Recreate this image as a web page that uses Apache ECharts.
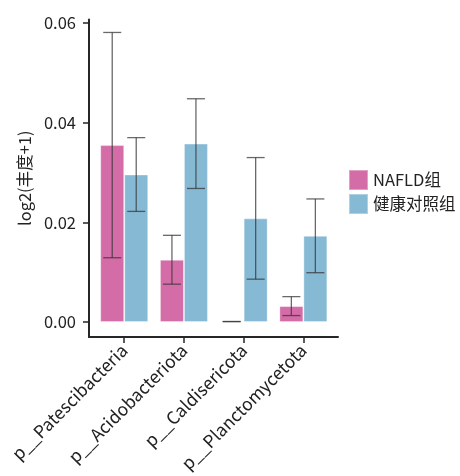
<!DOCTYPE html>
<html>
<head>
<meta charset="utf-8">
<script src="https://cdn.jsdelivr.net/npm/echarts@6/dist/echarts.min.js"></script>
<style>
  html, body { margin: 0; padding: 0; background: #fff; }
  #chart { width: 460px; height: 476px; }
</style>
</head>
<body>
<div id="chart"></div>
<script>
// Phylum names along the x axis
const categories = ['p__Patescibacteria', 'p__Acidobacteriota', 'p__Caldisericota', 'p__Planctomycetota'];
const groupNames = ['NAFLD组', '健康对照组'];

// Mean log2(abundance + 1) per phylum
const nafldMean = [0.0355, 0.0125, 0.0001, 0.0032];
const controlMean = [0.0296, 0.0358, 0.0208, 0.0173];

// Error bar half-lengths
const nafldErr = [0.0226, 0.0049, 0.0, 0.0019];
const controlErr = [0.0074, 0.0090, 0.0122, 0.0074];

// Y tick labels
const yTicks = [0, 0.02, 0.04, 0.06];

const FONT = '"Noto Sans CJK SC", "Noto Sans", sans-serif';
const colors = ['#d46ca8', '#86b9d4'];
const BAR_W = 24;

function barData(means) {
  return means.map((v, i) => [i, v]);
}

function errData(means, errs) {
  return means.map((v, i) => [i, v - errs[i], v + errs[i]]);
}

function errorSeries(name, means, errs, shift) {
  return {
    type: 'custom',
    name: name + '-err',
    z: 5,
    silent: true,
    encode: { x: 0, y: [1, 2] },
    data: errData(means, errs),
    renderItem: function (params, api) {
      const x = api.value(0);
      const lo = api.coord([x, api.value(1)]);
      const hi = api.coord([x, api.value(2)]);
      const cx = lo[0] + shift;
      const cap = 9;
      const style = { stroke: 'rgba(55,55,55,0.75)', lineWidth: 1.3, fill: null };
      return {
        type: 'group',
        children: [
          { type: 'line', shape: { x1: cx, y1: lo[1], x2: cx, y2: hi[1] }, style: style },
          { type: 'line', shape: { x1: cx - cap, y1: lo[1], x2: cx + cap, y2: lo[1] }, style: style },
          { type: 'line', shape: { x1: cx - cap, y1: hi[1], x2: cx + cap, y2: hi[1] }, style: style }
        ]
      };
    }
  };
}

const chart = echarts.init(document.getElementById('chart'), null, { renderer: 'canvas' });

chart.setOption({
  animation: false,
  textStyle: { fontFamily: FONT },
  grid: { left: 89, top: 19.5, width: 249, height: 317.5 },
  legend: {
    orient: 'vertical',
    left: 348,
    top: 169,
    padding: 0,
    itemWidth: 19,
    itemHeight: 20,
    itemGap: 2,
    icon: 'rect',
    data: groupNames,
    textStyle: { fontFamily: FONT, fontSize: 16.5, color: '#222' }
  },
  xAxis: {
    type: 'value',
    min: -0.59,
    max: 3.58,
    splitLine: { show: false },
    axisLine: { show: true, onZero: false, lineStyle: { color: '#262626', width: 2 } },
    axisTick: { show: true, length: 6, customValues: [0, 1, 2, 3], lineStyle: { color: '#262626', width: 1.5 } },
    axisLabel: {
      customValues: [0, 1, 2, 3],
      rotate: 45,
      margin: 10,
      fontSize: 17.5,
      color: '#222',
      fontFamily: FONT,
      formatter: function (v) { return categories[Math.round(v)]; }
    }
  },
  yAxis: {
    type: 'value',
    min: -0.003,
    max: 0.0607,
    name: 'log2(丰度+1)',
    nameLocation: 'middle',
    nameGap: 53,
    nameTextStyle: { fontSize: 16.5, color: '#222', fontFamily: FONT },
    splitLine: { show: false },
    axisLine: { show: true, onZero: false, lineStyle: { color: '#262626', width: 2 } },
    axisTick: { show: true, length: 6, customValues: yTicks, lineStyle: { color: '#262626', width: 1.5 } },
    axisLabel: {
      customValues: yTicks,
      margin: 13,
      fontSize: 16.5,
      color: '#222',
      fontFamily: FONT,
      formatter: function (v) { return v.toFixed(2); }
    }
  },
  series: [
    {
      type: 'bar',
      name: groupNames[0],
      barWidth: BAR_W,
      barGap: '0%',
      data: barData(nafldMean),
      itemStyle: { color: colors[0], borderColor: 'rgba(255,255,255,0.35)', borderWidth: 1 }
    },
    {
      type: 'bar',
      name: groupNames[1],
      barWidth: BAR_W,
      barGap: '0%',
      data: barData(controlMean),
      itemStyle: { color: colors[1], borderColor: 'rgba(255,255,255,0.35)', borderWidth: 1 }
    },
    errorSeries(groupNames[0], nafldMean, nafldErr, -BAR_W / 2),
    errorSeries(groupNames[1], controlMean, controlErr, BAR_W / 2)
  ]
});
</script>
</body>
</html>
